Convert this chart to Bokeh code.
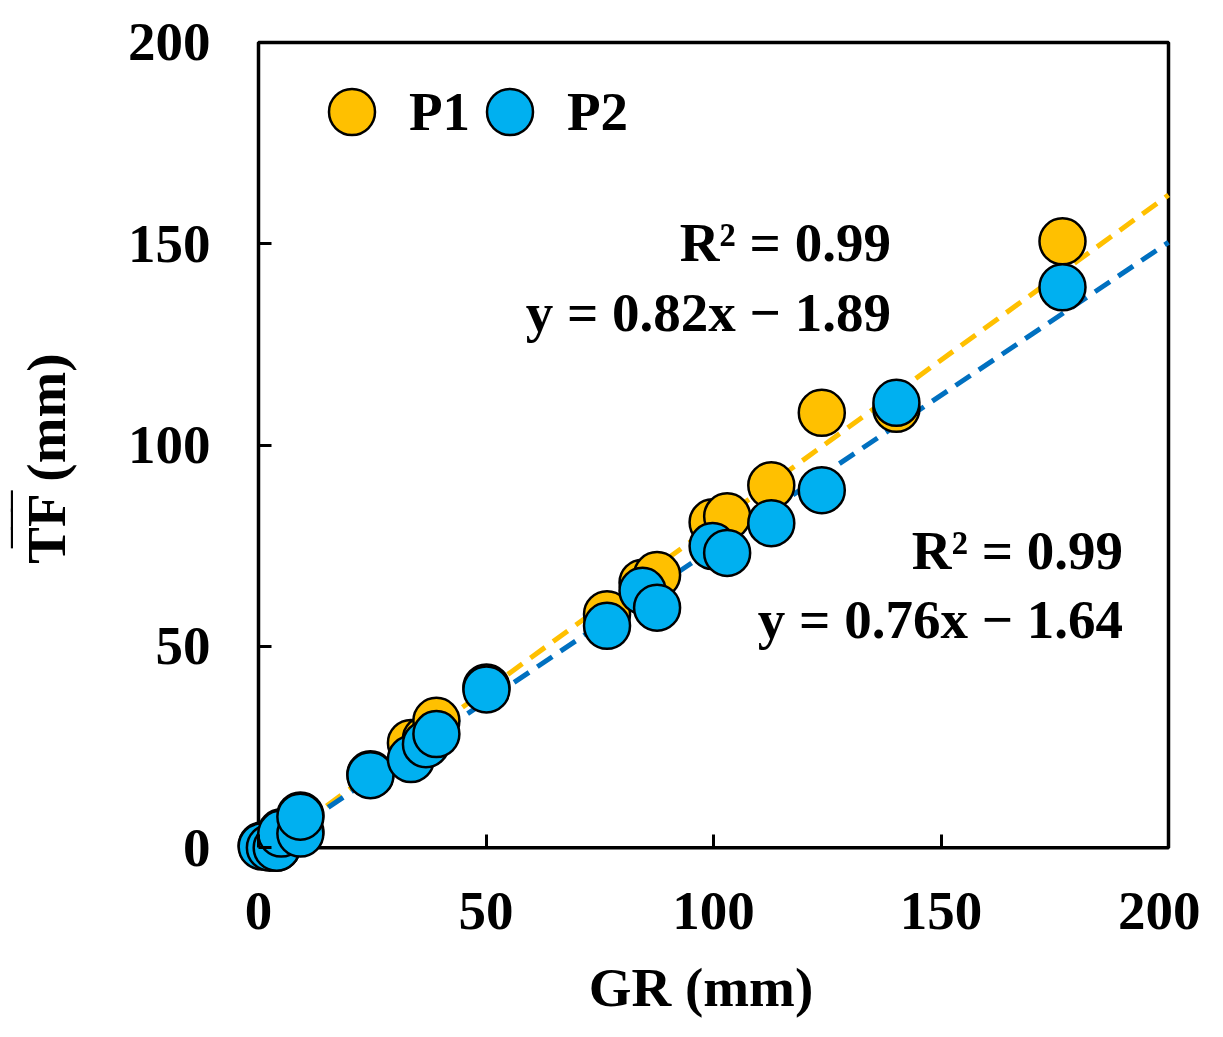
import numpy as np
from bokeh.plotting import figure
from bokeh.models import Range1d, Label, Legend, LegendItem, FixedTicker, BoxAnnotation
from bokeh.embed import file_html
from bokeh.resources import INLINE

# Datos
gr = [0.7, 2.5, 4.0, 5.0, 9.2, 9.2, 24.6, 33.5, 36.8, 39.1, 50.1, 76.6,
      84.4, 87.6, 99.8, 103.0, 112.7, 123.8, 140.2, 176.7]
tf_p1 = [0.5, 0.2, 0.0, 3.8, 4.0, 8.0, 18.2, 26.0, 27.0, 31.5, 39.8, 58.0,
         65.8, 67.7, 80.8, 82.3, 90.0, 108.0, 109.0, 150.6]
tf_p2 = [0.3, 0.0, 0.0, 3.5, 3.5, 7.7, 18.0, 22.0, 25.7, 28.2, 39.3, 55.1,
         63.8, 59.6, 74.9, 73.2, 80.6, 88.8, 110.5, 139.2]

series = ["P1", "P2"]
slopes = [0.82, 0.76]
intercepts = [-1.89, -1.64]
r2 = [0.99, 0.99]
ticks = [0, 50, 100, 150, 200]

FONT = "Liberation Serif"
FS = "55px"
fill_colors = ["#FFC000", "#00B0F0"]
line_colors = ["#FFC000", "#0070C0"]

# el marco de datos 0-200 ocupa 910 x 809 px; se deja margen extra para
# que los círculos junto al origen no se corten
PAD = 28
PAD2 = 3
x0 = -PAD * 200 / 910
y0 = -PAD * 200 / 809
x1 = 200 + PAD2 * 200 / 910
y1 = 200 + PAD2 * 200 / 809

p = figure(width=1200, height=1020, output_backend="svg", toolbar_location=None,
           x_range=Range1d(x0, x1), y_range=Range1d(y0, y1),
           min_border_left=258 - PAD, min_border_right=1200 - 1168 - PAD2,
           min_border_top=42 - PAD2, min_border_bottom=1020 - 851 - PAD)
p.xgrid.visible = False
p.ygrid.visible = False
p.outline_line_color = None

# Marco del área 0-200 (hace de ejes)
p.add_layout(BoxAnnotation(left=0, right=200, bottom=0, top=200, fill_alpha=0,
                           line_color="black", line_alpha=1, line_width=3.5,
                           level="underlay"))

# Líneas de tendencia
xs_fit = np.array([0, 200])
for m, b, c in zip(slopes, intercepts, line_colors):
    p.line(xs_fit, m * xs_fit + b, line_color=c, line_width=5, line_dash="18 10")

r1 = p.scatter(gr, tf_p1, size=46, fill_color=fill_colors[0], line_color="black", line_width=2.5)
r2_ = p.scatter(gr, tf_p2, size=46, fill_color=fill_colors[1], line_color="black", line_width=2.5)

# Leyenda: una por serie para controlar la posición
frame_h = 809 + PAD + PAD2
for rend, name, lx in [(r1, series[0], 64), (r2_, series[1], 222)]:
    lg = Legend(items=[LegendItem(label=name, renderers=[rend])],
                location=(lx, frame_h - (116 - 42 + PAD2) - 57),
                glyph_width=115, glyph_height=115, label_standoff=0,
                margin=0, padding=0, border_line_color=None, background_fill_alpha=0,
                label_text_font=FONT, label_text_font_style="bold",
                label_text_font_size=FS, label_text_color="black")
    p.add_layout(lg)

# Ecuaciones
ann_x = [139, 190]
ann_y_r2 = [150.3, 73.9]
ann_y_eq = [133.0, 56.6]
for i in range(2):
    eq = "y = %.2fx \u2212 %.2f" % (slopes[i], abs(intercepts[i]))
    for txt, yy in [("R\u00b2 = %.2f" % r2[i], ann_y_r2[i]), (eq, ann_y_eq[i])]:
        p.add_layout(Label(x=ann_x[i], y=yy, text=txt, text_align="right",
                           text_baseline="middle", text_font=FONT,
                           text_font_style="bold", text_font_size=FS,
                           text_color="black"))

for ax in (p.xaxis[0], p.yaxis[0]):
    ax.ticker = FixedTicker(ticks=ticks)
    ax.minor_tick_line_color = None
    ax.axis_line_color = None
    # marcas interiores, desplazadas hasta la línea del 0
    ax.major_tick_in = PAD + 13
    ax.major_tick_out = -PAD
    ax.major_tick_line_width = 3
    ax.major_tick_line_color = "black"
    ax.major_label_text_font = FONT
    ax.major_label_text_font_style = "bold"
    ax.major_label_text_font_size = FS
    ax.major_label_text_color = "black"
    ax.axis_label_text_font = FONT
    ax.axis_label_text_font_style = "bold"
    ax.axis_label_text_font_size = FS
    ax.axis_label_text_color = "black"

p.xaxis.axis_label = "GR (mm)"
# raya de media sobre TF: una línea de "‾" encima del texto
p.yaxis.axis_label = "\u203e\u203e\u203e" + "\u00a0" * 9 + "\nTF (mm)"
p.yaxis.axis_label_text_line_height = 0.18
p.xaxis.major_label_standoff = 17
p.yaxis.major_label_standoff = 20
p.xaxis.axis_label_standoff = 25
p.yaxis.axis_label_standoff = 48

open("out.html", "w").write(file_html(p, INLINE))
